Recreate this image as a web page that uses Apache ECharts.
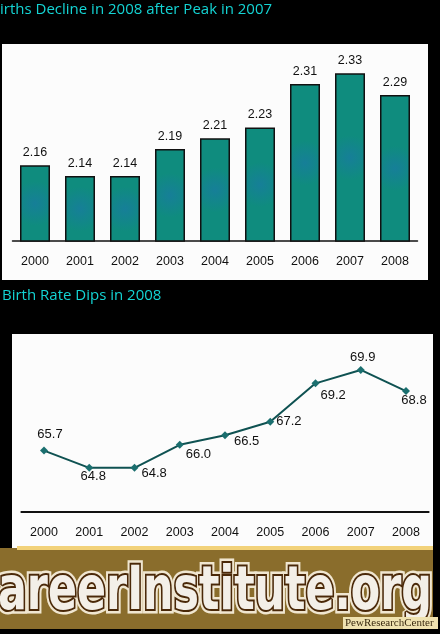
<!DOCTYPE html>
<html><head><meta charset="utf-8">
<script src="https://cdn.jsdelivr.net/npm/echarts@6/dist/echarts.min.js"></script>
<style>html,body{margin:0;padding:0;background:#000;}#c{width:440px;height:634px;}</style>
</head><body><div id="c"></div>
<script>
// ---- data ----
const years = ['2000','2001','2002','2003','2004','2005','2006','2007','2008'];
const birthsMillions = [2.16, 2.14, 2.14, 2.19, 2.21, 2.23, 2.31, 2.33, 2.29];
const birthRate = [65.7, 64.8, 64.8, 66.0, 66.5, 67.2, 69.2, 69.9, 68.8];
const title1 = 'irths Decline in 2008 after Peak in 2007';
const title2 = 'Birth Rate Dips in 2008';
const watermark = 'areerInstitute.org';
const credit = 'PewResearchCenter';

// ---- build ----
const ratePlacement = [
  {position:'top', distance:6, offset:[6,0]},
  {position:'bottom', distance:0, offset:[4,-2]},
  {position:'right', distance:3, offset:[0,6]},
  {position:'right', distance:2, offset:[0,10]},
  {position:'right', distance:5, offset:[0,6]},
  {position:'right', distance:2, offset:[0,0]},
  {position:'right', distance:1, offset:[0,12]},
  {position:'top', distance:2, offset:[2,0]},
  {position:'bottom', distance:-1, offset:[8,0]}
];

const wmFont = 'bold 60px "Liberation Sans Narrow", "DejaVu Sans Condensed", sans-serif';
const ctx = document.createElement('canvas').getContext('2d');
ctx.font = wmFont;
const wmScale = 434 / ctx.measureText(watermark).width;

const chart = echarts.init(document.getElementById('c'), null, {renderer:'canvas'});
const axisFont = {color:'#111', fontSize:12.5, fontFamily:'"Liberation Sans", Arial, sans-serif'};
const barColor = {type:'radial', x:0.5, y:0.5, r:0.75, colorStops:[{offset:0,color:'#167f98'},{offset:1,color:'#0f8c7e'}]};

chart.setOption({
  backgroundColor:'#000',
  animation:false,
  grid:[
    {left:12.5, right:22.5, top:35.4, bottom:393},
    {left:21.4, right:11.4, top:358.4, bottom:122}
  ],
  xAxis:[
    {gridIndex:0, type:'category', data:years, axisTick:{show:false},
     axisLine:{lineStyle:{color:'#111', width:1.5}},
     axisLabel:Object.assign({margin:14}, axisFont)},
    {gridIndex:1, type:'category', data:years, axisTick:{show:false},
     axisLine:{lineStyle:{color:'#111', width:2}},
     axisLabel:Object.assign({margin:14}, axisFont)}
  ],
  yAxis:[
    {gridIndex:0, type:'value', min:2.02, max:2.40, show:false, splitLine:{show:false}},
    {gridIndex:1, type:'value', min:62.5, max:70.5, show:false, splitLine:{show:false}}
  ],
  series:[
    {type:'bar', xAxisIndex:0, yAxisIndex:0, data:birthsMillions, barWidth:30,
     itemStyle:{color:barColor, borderColor:'#111', borderWidth:1.5},
     label:{show:true, position:'top', distance:6, color:'#111', fontSize:12.5,
            fontFamily:'"Liberation Sans", Arial, sans-serif',
            formatter:p=>p.value.toFixed(2)}},
    {type:'line', xAxisIndex:1, yAxisIndex:1,
     data:birthRate.map((v,i)=>({value:v, label:ratePlacement[i]})),
     symbol:'diamond', symbolSize:8,
     itemStyle:{color:'#1b6f6f'}, lineStyle:{color:'#0f5252', width:2},
     label:{show:true, color:'#111', fontSize:13,
            fontFamily:'"Liberation Sans", Arial, sans-serif',
            formatter:p=>p.value.toFixed(1)}}
  ],
  graphic:[
    {type:'rect', z:-10, shape:{x:2, y:44, width:426, height:236}, style:{fill:'#fcfcfc'}},
    {type:'rect', z:-10, shape:{x:12, y:334, width:421, height:214}, style:{fill:'#fcfcfc'}},
    {type:'text', z:5, x:0, y:10, style:{text:title1, fill:'#14d4d4', font:'15px "Open Sans", sans-serif', verticalAlign:'middle'}},
    {type:'text', z:5, x:2, y:296, style:{text:title2, fill:'#14d4d4', font:'15px "Open Sans", sans-serif', verticalAlign:'middle'}},
    {type:'rect', z:50, shape:{x:0, y:548, width:433, height:81}, style:{fill:'#8a6d2c'}},
    {type:'rect', z:51, shape:{x:17, y:546, width:416, height:4}, style:{fill:'#f2d27a'}},
    {type:'text', z:52, x:-2, y:593, scaleX:wmScale,
     style:{text:watermark, font:wmFont, fill:'#efe9df', stroke:'#f0e6d0', lineWidth:9, verticalAlign:'middle'}},
    {type:'text', z:53, x:-2, y:593, scaleX:wmScale,
     style:{text:watermark, font:wmFont, fill:'#f3efe8', stroke:'#4a2808', lineWidth:4, strokeFirst:true, verticalAlign:'middle'}},
    {type:'rect', z:54, shape:{x:343, y:617, width:95, height:12}, style:{fill:'#efe2b0'}},
    {type:'text', z:55, x:345, y:623, style:{text:credit, fill:'#3a2a10', font:'11px "Liberation Serif", serif', verticalAlign:'middle'}}
  ]
});
</script>
</body></html>
